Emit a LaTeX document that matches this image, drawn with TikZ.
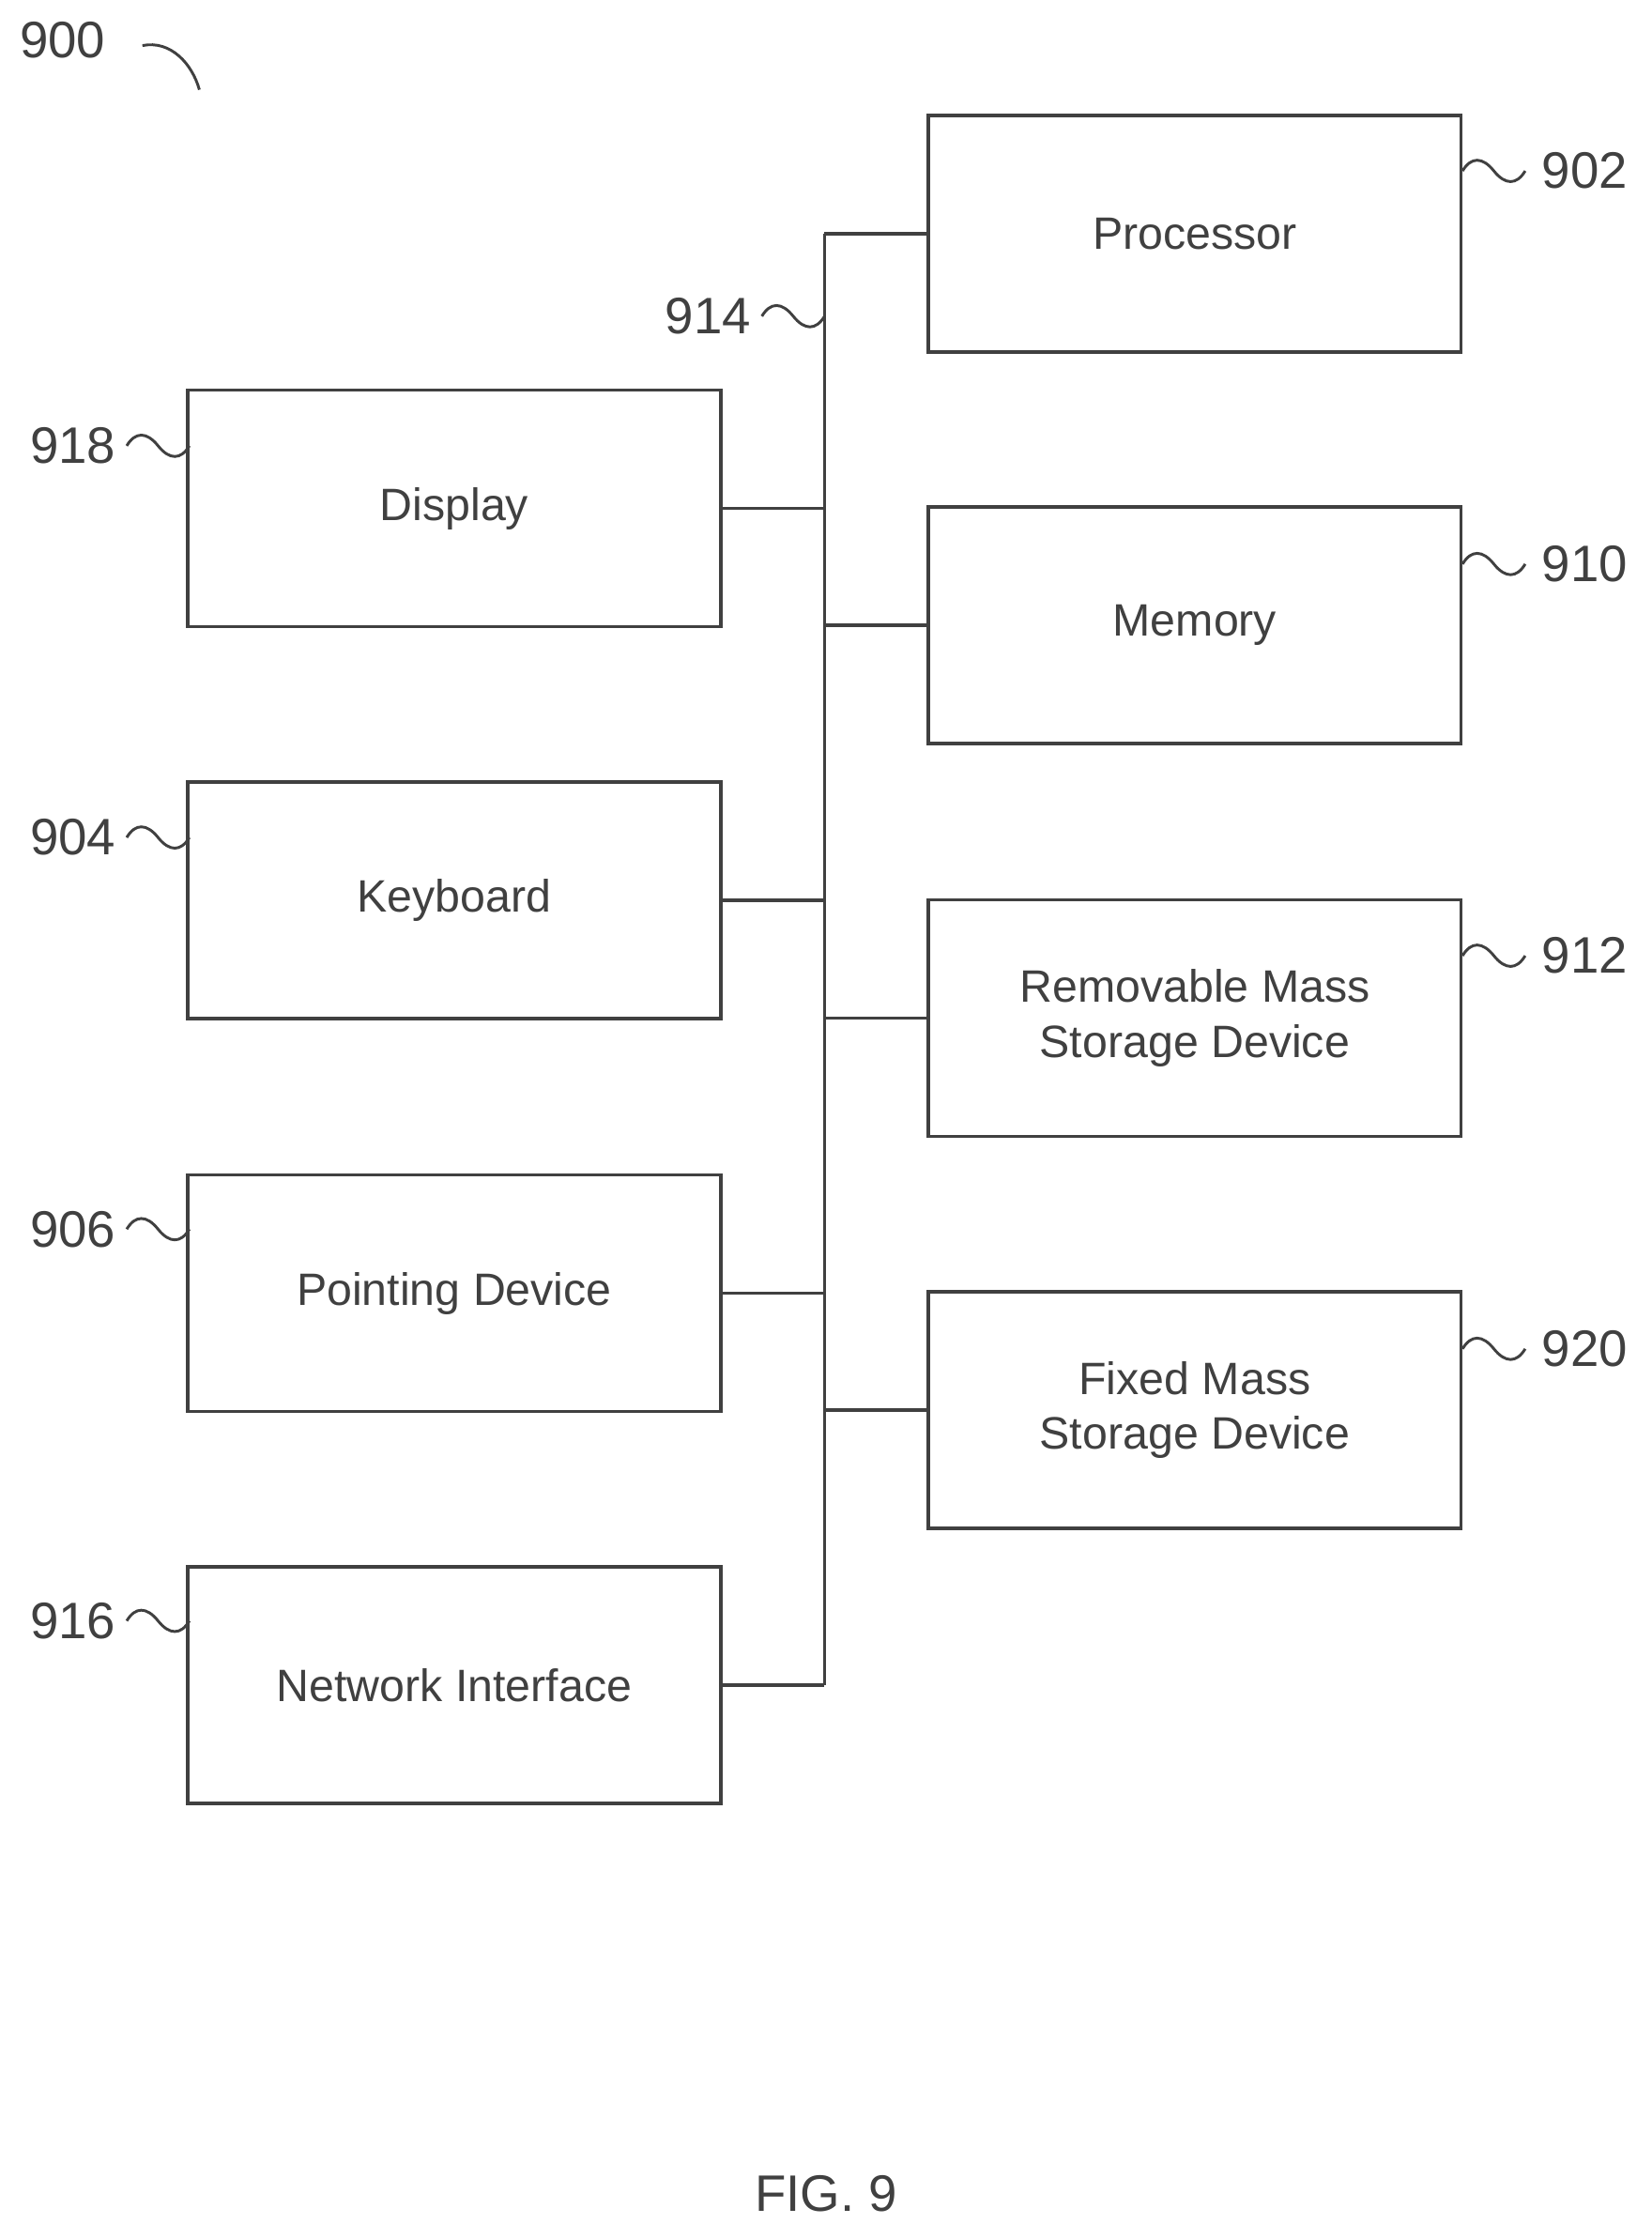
\documentclass[tikz,border=0pt]{standalone}
\usepackage{fontspec}
\setmainfont{Liberation Sans}
\begin{document}
\begin{tikzpicture}[x=0.01in,y=-0.01in,line width=1.6pt,color=black!75,
  box/.style={draw,minimum width=3.74in,minimum height=1.66in,align=center,font=\fontsize{23}{28}\selectfont,inner sep=0pt},
  lab/.style={font=\fontsize{26}{28}\selectfont},
  sq/.pic={\draw[line width=1.4pt] (0,0) .. controls (6,-10) and (14,-10) .. (22,0) .. controls (30,10) and (38,10) .. (44,0);}]
\useasboundingbox (0,0) rectangle (1160,1572);
\node[box] (proc) at (839,164) {Processor};
\node[box] (mem) at (839,439) {Memory};
\node[box] (rem) at (839,715) {Removable Mass\\Storage Device};
\node[box] (fix) at (839,990) {Fixed Mass\\Storage Device};
\node[box] (disp) at (319,357) {Display};
\node[box] (key) at (319,632) {Keyboard};
\node[box] (pnt) at (319,908) {Pointing Device};
\node[box] (net) at (319,1183) {Network Interface};
\coordinate (bt) at (579,164);
\coordinate (bb) at (579,1183);
\draw (bt) -- (bb);
\foreach \n in {proc,mem,rem,fix} \draw (\n.west) -- (\n.west -| bt);
\foreach \n in {disp,key,pnt,net} \draw (\n.east) -- (\n.east -| bt);
\foreach \n/\t/\y in {proc/902/120,mem/910/396,rem/912/671,fix/920/947}{
  \pic at (1027,\y) {sq};
  \node[lab,anchor=west] (l\t) at (1077,\y) {\t};}
\foreach \n/\t/\y in {disp/918/313,key/904/588,pnt/906/863,net/916/1138}{
  \pic at (89,\y) {sq};
  \node[lab,anchor=east] (l\t) at (87,\y) {\t};}
\pic at (535,222) {sq};
\node[lab,anchor=east] (l914) at (533,222) {914};
\node[lab] (l900) at (44,28) {900};
\draw[line width=1.4pt] (100,32) .. controls (120,28) and (135,45) .. (140,63);
\node[lab] (fig) at (580,1540) {FIG. 9};
\end{tikzpicture}
\end{document}
